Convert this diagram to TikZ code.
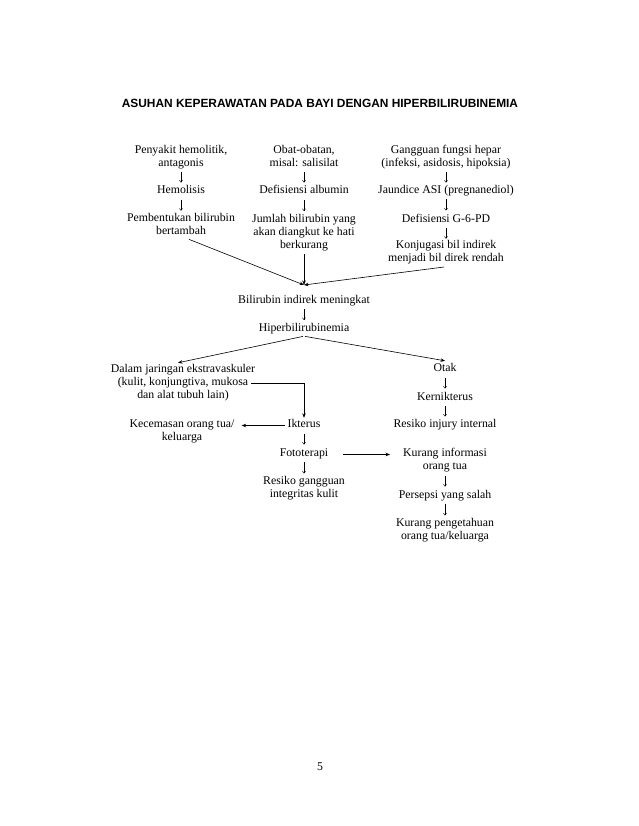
\documentclass[tikz,border=0pt]{standalone}
\usepackage{fontspec}
\setmainfont{Liberation Serif}
\newfontfamily\titlefont{Liberation Sans}
\usetikzlibrary{arrows.meta,calc}
\newcommand\dnarrow[2]{\draw[dn] ($(#1.south)!.5!(#2.north)+(0,-5.5)$) -- ++(0,11);}
\begin{document}
\begin{tikzpicture}[x=1pt,y=-1pt,
  every node/.style={inner sep=1pt,align=center,font=\fontsize{11.8}{13}\selectfont,
    execute at begin node=\strut, execute at end node=\strut},
  dn/.style={-{To[length=2.5pt,width=3.5pt]},line width=0.45pt},
  lg/.style={-{Stealth[length=4.5pt,width=3.5pt]},line width=0.6pt}]
\useasboundingbox (0,0) rectangle (638,826);
\fill[white] (0,0) rectangle (638,826);
\node (title) at (320,105) {\titlefont\bfseries\fontsize{11.9}{13}\selectfont ASUHAN KEPERAWATAN PADA BAYI DENGAN HIPERBILIRUBINEMIA};
% column 1
\node (n11) at (181,157.5) {Penyakit hemolitik,\\antagonis};
\node (n12) at (181,190.5) {Hemolisis};
\node (n13) at (181,226) {Pembentukan bilirubin\\bertambah};
% column 2
\node (n21) at (304,157.5) {Obat-obatan,\\misal: salisilat};
\node (n22) at (304,190.5) {Defisiensi albumin};
\node (n23) at (304,233) {Jumlah bilirubin yang\\akan diangkut ke hati\\berkurang};
% column 3
\node (n31) at (446,157.5) {Gangguan fungsi hepar\\(infeksi, asidosis, hipoksia)};
\node (n32) at (446,190.5) {Jaundice ASI (pregnanediol)};
\node (n33) at (446,219.5) {Defisiensi G-6-PD};
\node (n34) at (446,253) {Konjugasi bil indirek\\menjadi bil direk rendah};
\coordinate (c) at (304,285);
\node (bil) at (304,300.5) {Bilirubin indirek meningkat};
\node (hip) at (304,328.5) {Hiperbilirubinemia};
\node (dal) at (183,383) {Dalam jaringan ekstravaskuler\\(kulit, konjungtiva, mukosa\\dan alat tubuh lain)};
\coordinate (k1) at (251,383);
\node (otak) at (445,368.5) {Otak};
\node (kern) at (445,397.5) {Kernikterus};
\node (rii) at (445,424.5) {Resiko injury internal};
\node (ikt) at (304,424.5) {Ikterus};
\node (kec) at (182,432) {Kecemasan orang tua/\\keluarga};
\node (foto) at (304,453.5) {Fototerapi};
\node (rgi) at (304,488.5) {Resiko gangguan\\integritas kulit};
\node (kui) at (445,460.5) {Kurang informasi\\orang tua};
\node (pys) at (445,495.5) {Persepsi yang salah};
\node (kpo) at (445,530.5) {Kurang pengetahuan\\orang tua/keluarga};
\node (page) at (320,768) {5};
% short arrows
\dnarrow{n11}{n12}
\dnarrow{n12}{n13}
\dnarrow{n21}{n22}
\dnarrow{n22}{n23}
\dnarrow{n31}{n32}
\dnarrow{n32}{n33}
\dnarrow{n33}{n34}
\dnarrow{bil}{hip}
\dnarrow{otak}{kern}
\dnarrow{kern}{rii}
\dnarrow{ikt}{foto}
\dnarrow{foto}{rgi}
\dnarrow{kui}{pys}
\dnarrow{pys}{kpo}
% long arrows
\draw[lg,shorten <=-1pt] ([xshift=9pt]n13.south) -- (c);
\draw[lg,shorten <=1pt] (n23.south) -- (c);
\draw[lg,shorten <=2pt] (n34.south) -- (c);
\draw[lg,shorten <=1pt] (hip.south) -- ([xshift=-5pt]dal.north);
\draw[lg,shorten <=1pt] (hip.south) -- (otak.north);
\draw[lg] (k1) -| ([yshift=-1pt]ikt.north);
\draw[lg,shorten <=1pt,shorten >=6pt] ([yshift=-1pt]ikt.west) -- ([yshift=-1pt]ikt.west -| kec.east);
\draw[lg,shorten <=14pt,shorten >=12pt] ([yshift=-1pt]foto.east) -- ([yshift=-1pt]foto.east -| kui.west);
\end{tikzpicture}
\end{document}
